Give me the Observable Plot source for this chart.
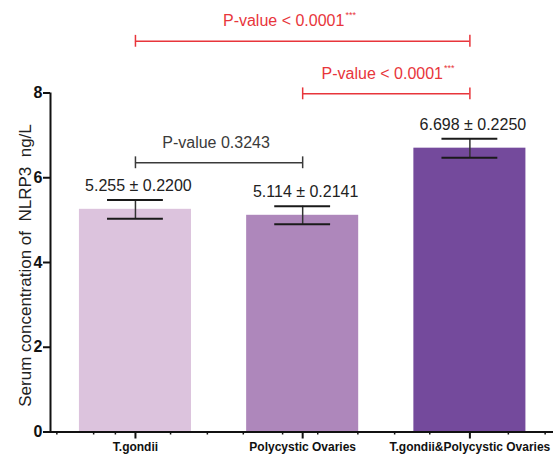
<!DOCTYPE html>
<html>
<head>
<meta charset="utf-8">
<script src="https://cdn.jsdelivr.net/npm/d3@7"></script>
<script src="https://cdn.jsdelivr.net/npm/@observablehq/plot@0.6"></script>
<style>
  html, body { margin: 0; padding: 0; background: #fff; }
  svg text { white-space: pre; }
</style>
</head>
<body>
<div id="chart"></div>
<script>
// ---- data ----
const categories = ["T.gondii", "Polycystic Ovaries", "T.gondii&Polycystic Ovaries"];
const means = [5.255, 5.114, 6.698];
const sds = [0.2200, 0.2141, 0.2250];
const yTicks = [0, 2, 4, 6, 8];
const xMinorTicks = [-0.47, -0.25, -0.12, 0.21, 0.43, 0.645, 0.88, 1.09, 1.33, 1.55, 1.76, 2.23, 2.45];
const compFrom = [0, 1, 0];
const compTo = [1, 2, 2];
const compLevel = [6.353, 7.98, 9.22];
const compText = ["P-value 0.3243", "P-value < 0.0001", "P-value < 0.0001"];
const compStars = ["", "***", "***"];
const yTitle = "Serum concentration of  NLRP3  ng/L";

// ---- styles ----
const barColors = ["#DCC3DD", "#AE87BB", "#744A9C"];
const compColors = ["#3a3a3a", "#E8353B", "#E8353B"];
const compDx = [-3, -4, -19];
const font = "Liberation Sans, Arial, Helvetica, sans-serif";
const xDomain = [-0.508, 2.5];
const barHalf = 0.335, capHalf = 0.167, endTick = 0.14;

const bars = categories.map((c, i) => ({i, c, mean: means[i], sd: sds[i], lo: means[i] - sds[i], hi: means[i] + sds[i],
  label: `${means[i].toFixed(3)} ± ${sds[i].toFixed(4)}`, color: barColors[i]}));
const comps = compText.map((t, k) => ({x1: compFrom[k], x2: compTo[k], y: compLevel[k], text: t, stars: compStars[k], color: compColors[k], dx: compDx[k]}));

const ctx = document.createElement("canvas").getContext("2d");
ctx.font = `16px ${font}`;

const compMarks = comps.flatMap(d => {
  const w = ctx.measureText(d.text).width;
  const mid = (d.x1 + d.x2) / 2;
  return [
    Plot.ruleY([d], {x1: "x1", x2: "x2", y: "y", stroke: d.color, strokeWidth: 1.5}),
    Plot.ruleX([d.x1, d.x2], {x: v => v, y1: d.y - endTick, y2: d.y + endTick, stroke: d.color, strokeWidth: 1.5}),
    Plot.text([d], {x: mid, y: "y", text: "text", dy: -20, dx: d.dx, fill: d.color, fontSize: 16, lineAnchor: "middle"}),
    Plot.text([d], {x: mid, y: "y", text: "stars", dy: -26, dx: d.dx + w / 2 + 1, fill: d.color, fontSize: 9, textAnchor: "start", lineAnchor: "middle"})
  ];
});

const chart = Plot.plot({
  width: 553,
  height: 455,
  marginLeft: 50,
  marginRight: 0,
  marginTop: 92.5,
  marginBottom: 23.5,
  style: {fontFamily: font, background: "#fff", overflow: "visible"},
  x: {domain: xDomain},
  y: {domain: [0, 8]},
  marks: [
    Plot.rect(bars, {x1: d => d.i - barHalf, x2: d => d.i + barHalf, y1: 0, y2: "mean", fill: "color"}),
    Plot.ruleX(bars, {x: "i", y1: "lo", y2: "hi", stroke: "#333", strokeWidth: 1.5}),
    Plot.ruleY(bars, {x1: d => d.i - capHalf, x2: d => d.i + capHalf, y: "hi", stroke: "#1a1a1a", strokeWidth: 2}),
    Plot.ruleY(bars, {x1: d => d.i - capHalf, x2: d => d.i + capHalf, y: "lo", stroke: "#1a1a1a", strokeWidth: 2}),
    Plot.text(bars, {x: "i", y: "hi", text: "label", dy: -14, dx: 3, fontSize: 16, fill: "#222", lineAnchor: "middle"}),
    ...compMarks,
    Plot.ruleX([xDomain[0]], {y1: 0, y2: 8, stroke: "#111", strokeWidth: 2}),
    Plot.ruleY([0], {stroke: "#111", strokeWidth: 2}),
    Plot.axisY({ticks: yTicks, tickSize: 7, tickPadding: 1, fontSize: 16, fontWeight: "bold", fill: "#111", stroke: "#111", strokeWidth: 2, label: null}),
    Plot.axisX({ticks: categories.map((c, i) => i), tickFormat: i => categories[i], tickSize: 7, tickPadding: 3, fontSize: 12, fontWeight: "bold", fill: "#111", stroke: "#111", strokeWidth: 2, label: null}),
    Plot.axisX({ticks: xMinorTicks, tickFormat: () => "", tickSize: 3, stroke: "#111", strokeWidth: 1.5, label: null}),
    Plot.text([yTitle], {frameAnchor: "left", dx: -25, dy: 3, rotate: -90, textAnchor: "middle", fontSize: 17, fill: "#222", lineAnchor: "middle"})
  ]
});
document.getElementById("chart").appendChild(chart);
</script>
</body>
</html>
